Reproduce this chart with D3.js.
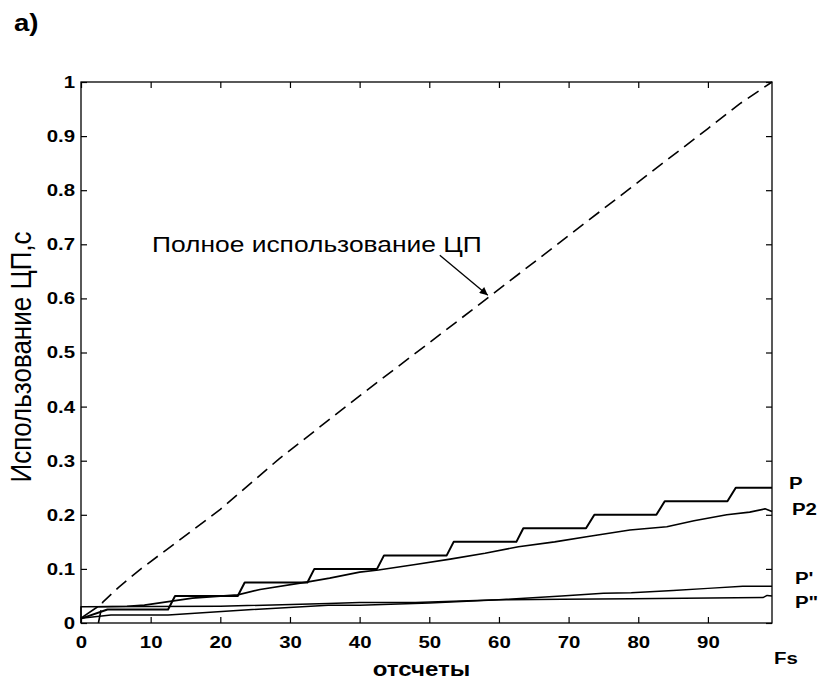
<!DOCTYPE html>
<html><head><meta charset="utf-8">
<script src="https://cdn.jsdelivr.net/npm/d3@7/dist/d3.min.js"></script>
<style>body{margin:0;background:#fff}svg{display:block}</style>
</head><body>
<svg id="c" width="822" height="681"></svg>
<script>
// ---- data ----
const xTicks = [0, 10, 20, 30, 40, 50, 60, 70, 80, 90];
const yTicks = [0, 0.1, 0.2, 0.3, 0.4, 0.5, 0.6, 0.7, 0.8, 0.9, 1];
const yTickLabels = ["0", "0.1", "0.2", "0.3", "0.4", "0.5", "0.6", "0.7", "0.8", "0.9", "1"];

// "Полное использование ЦП" (dashed)
const fullX = [2.5, 3.1, 5.4, 8.6, 20, 28.4, 40, 50, 58.4, 70, 81, 90, 94.6, 99.2];
const fullY = [0, 0.038, 0.066, 0.1, 0.21, 0.303, 0.42, 0.518, 0.601, 0.716, 0.825, 0.914, 0.96, 1.0];

// P (step)
const pX = [0, 3.8, 12.5, 13.5, 22.5, 23.5, 32.5, 33.5, 42.5, 43.5, 52.5, 53.5, 62.5, 63.5, 72.5, 73.7, 82.6, 83.8, 92.8, 94, 99.2];
const pY = [0.008, 0.025, 0.025, 0.05, 0.05, 0.075, 0.075, 0.1, 0.1, 0.125, 0.125, 0.15, 0.15, 0.175, 0.175, 0.2, 0.2, 0.225, 0.225, 0.25, 0.25];

// P2
const p2X = [0, 2.4, 6.6, 9.1, 16, 22.5, 25.7, 32.6, 35.7, 40, 42.7, 48, 53, 58, 62.8, 68, 72.8, 78.8, 84.1, 88, 92.7, 96, 98.2, 99.2];
const p2Y = [0.009, 0.03, 0.031, 0.033, 0.046, 0.052, 0.062, 0.076, 0.083, 0.094, 0.098, 0.108, 0.118, 0.129, 0.141, 0.15, 0.16, 0.172, 0.178, 0.189, 0.2, 0.205, 0.211, 0.206];

// P'
const p1X = [0, 0, 20, 35.5, 40, 48, 60, 69, 75, 79, 85, 90, 95, 99.2];
const p1Y = [0, 0.03, 0.031, 0.036, 0.038, 0.038, 0.043, 0.05, 0.055, 0.056, 0.06, 0.064, 0.068, 0.068];

// P''
const p3X = [0, 4.3, 12.5, 23.5, 35.5, 40, 50, 60, 69, 79, 97.9, 98.5, 99.2];
const p3Y = [0.009, 0.015, 0.015, 0.024, 0.033, 0.033, 0.037, 0.043, 0.044, 0.045, 0.047, 0.051, 0.05];

const seriesLabels = ["P", "P2", "P'", "P\""];
const annotationText = "Полное использование ЦП";
const annotationTip = [58.4, 0.606];

// ---- layout ----
const L = 81, R = 772, T = 82, B = 623;
const SX = 1.2; // horizontal stretch of the scanned lettering
const svg = d3.select("#c");
svg.append("rect").attr("width", 822).attr("height", 681).attr("fill", "#fff");

const x = d3.scaleLinear().domain([0, 99.2]).range([L, R]);
const y = d3.scaleLinear().domain([0, 1]).range([B, T]);

const FONT = "'Liberation Sans', Arial, Helvetica, sans-serif";

// axes
const gB = svg.append("g").attr("transform", `translate(0,${B})`)
  .call(d3.axisBottom(x).tickValues(xTicks).tickSize(-6).tickSizeOuter(0).tickPadding(13).tickFormat(d3.format("d")));
const gT = svg.append("g").attr("transform", `translate(0,${T})`)
  .call(d3.axisTop(x).tickValues(xTicks).tickSize(-6).tickSizeOuter(0).tickFormat(""));
const gL = svg.append("g").attr("transform", `translate(${L},0)`)
  .call(d3.axisLeft(y).tickValues(yTicks).tickSize(-6).tickSizeOuter(0).tickPadding(5).tickFormat((d, i) => yTickLabels[i]));
const gR = svg.append("g").attr("transform", `translate(${R},0)`)
  .call(d3.axisRight(y).tickValues(yTicks).tickSize(-6).tickSizeOuter(0).tickFormat(""));

[gB, gT, gL, gR].forEach(g => {
  g.select(".domain").remove();
  g.selectAll(".tick line").attr("stroke", "#000").attr("stroke-width", 1.2);
  g.selectAll("text").attr("font-family", FONT).attr("font-weight", "bold")
    .attr("font-size", 17).attr("fill", "#000")
    .attr("transform", `scale(${SX},1)`);
});

// frame
svg.append("rect").attr("x", L).attr("y", T).attr("width", R - L).attr("height", B - T)
  .attr("fill", "none").attr("stroke", "#000").attr("stroke-width", 1.3);

// lines
const line = d3.line().x(d => x(d[0])).y(d => y(d[1]));
const zip = (a, b) => a.map((v, i) => [v, b[i]]);

function drawLine(xs, ys, w, dash) {
  svg.append("path").datum(zip(xs, ys)).attr("d", line)
    .attr("fill", "none").attr("stroke", "#000").attr("stroke-width", w)
    .attr("stroke-linejoin", "round")
    .attr("stroke-dasharray", dash || null);
}
drawLine(fullX, fullY, 1.6, "13,7");
drawLine(p3X, p3Y, 1.5);
drawLine(p1X, p1Y, 1.5);
drawLine(p2X, p2Y, 1.6);
drawLine(pX, pY, 2);

// text helper
function stretchText(txt, px, py, size, weight, anchor) {
  return svg.append("text")
    .attr("transform", `translate(${px},${py}) scale(${SX},1)`)
    .attr("font-family", FONT).attr("font-size", size)
    .attr("font-weight", weight).attr("text-anchor", anchor || "start")
    .attr("fill", "#000").text(txt);
}

// series labels at right
const labelPos = [[789, 489], [792, 515], [795, 584], [795, 608]];
seriesLabels.forEach((t, i) => stretchText(t, labelPos[i][0], labelPos[i][1], 17, "bold"));
stretchText("Fs", 774, 664, 17, "bold");

// x title
stretchText("отсчеты", (L + R) / 2 - 5, 676, 20, "bold", "middle");

// y title
svg.append("text")
  .attr("transform", `translate(31,357) scale(1.1,1) rotate(-90)`)
  .attr("font-family", FONT).attr("font-size", 26).attr("text-anchor", "middle")
  .attr("fill", "#000").text("Использование ЦП,с");

// panel letter
stretchText("a)", 14, 31, 23, "bold");

// annotation
stretchText(annotationText, 152, 252, 22, "normal");
svg.append("defs").append("marker").attr("id", "ah")
  .attr("viewBox", "0 0 10 10").attr("refX", 10).attr("refY", 5)
  .attr("markerWidth", 10).attr("markerHeight", 8).attr("markerUnits", "userSpaceOnUse")
  .attr("orient", "auto")
  .append("path").attr("d", "M0,0L10,5L0,10z").attr("fill", "#000");
const tip = [x(annotationTip[0]), y(annotationTip[1])];
svg.append("line").attr("x1", tip[0] - 48).attr("y1", tip[1] - 40)
  .attr("x2", tip[0]).attr("y2", tip[1])
  .attr("stroke", "#000").attr("stroke-width", 1.3).attr("marker-end", "url(#ah)");
</script>
</body></html>
